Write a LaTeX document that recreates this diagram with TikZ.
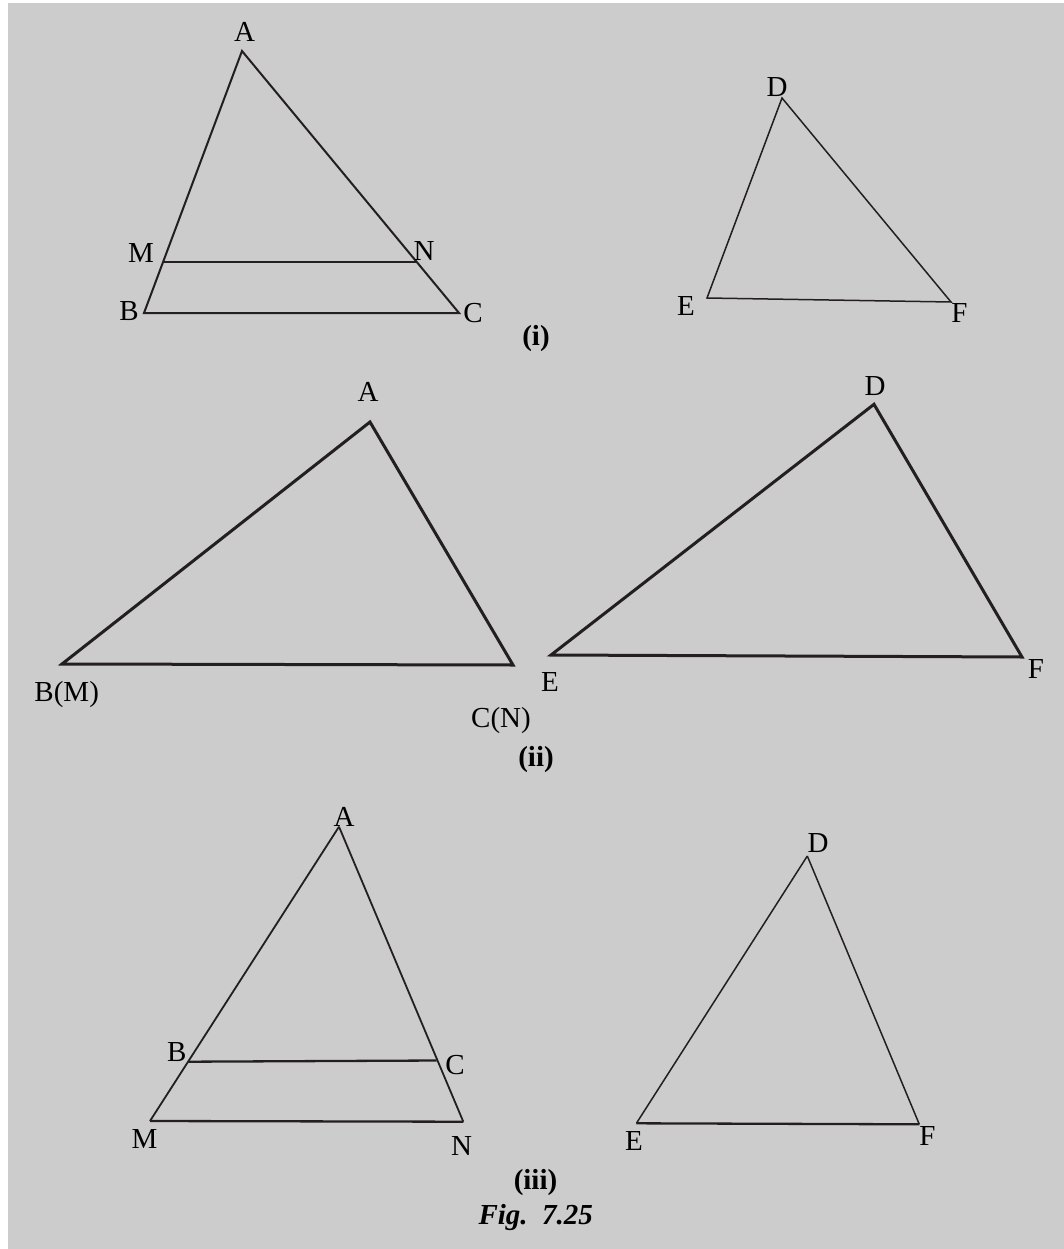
\documentclass[tikz,border=0pt]{standalone}
\usepackage{fontspec}
\setmainfont{Liberation Serif}
\definecolor{ink}{HTML}{231F20}
\definecolor{bgray}{HTML}{CCCCCC}
\tikzset{
  lbl/.style={anchor=base,inner sep=0pt,text=black,font=\fontsize{29}{32}\selectfont},
  caption/.style={anchor=base,inner sep=0pt,text=black,font=\fontsize{29}{32}\selectfont\bfseries},
  figcap/.style={anchor=base,inner sep=0pt,text=black,font=\fontsize{29}{32}\selectfont\bfseries\itshape},
  edgeA/.style={draw=ink,line width=2pt,line join=miter},
  edgeB/.style={draw=ink,line width=1.5pt,line join=miter},
  edgeC/.style={draw=ink,line width=3pt,line join=miter},
  edgeD/.style={draw=ink,line width=1.8pt,line join=miter},
  edgeE/.style={draw=ink,line width=2.3pt}
}
\begin{document}
\begin{tikzpicture}[x=1pt,y=-1pt]
\path[use as bounding box] (0,0) rectangle (1064,1249);
\fill[bgray] (8,3) rectangle (1064,1249);

% ---------- (i) ----------
\coordinate (iA) at (242,51);
\coordinate (iB) at (144,313);
\coordinate (iC) at (459,313);
\coordinate (iM) at (164,262);
\coordinate (iN) at (416,262);
\path[edgeA] (iA) -- (iB) -- (iC) -- cycle;
\path[edgeA] (iM) -- (iN);
\node[lbl] (liA) at (244.5,41.7) {A};
\node[lbl] (liM) at (141,262) {M};
\node[lbl] (liN) at (424,260) {N};
\node[lbl] (liB) at (129,320) {B};
\node[lbl] (liC) at (473,322) {C};
\node[caption] (capi) at (536,345) {(i)};

\coordinate (iD) at (782,98);
\coordinate (iE) at (707,298);
\coordinate (iF) at (951,302);
\path[edgeB] (iD) -- (iE) -- (iF) -- cycle;
\node[lbl] (liD) at (777,97) {D};
\node[lbl] (liE) at (686,315) {E};
\node[lbl] (liF) at (959.5,322) {F};

% ---------- (ii) ----------
\coordinate (iiA) at (370,422);
\coordinate (iiB) at (62,664);
\coordinate (iiC) at (513,665);
\path[edgeC] (iiA) -- (iiB) -- (iiC) -- cycle;
\node[lbl] (liiA) at (368,401.7) {A};
\node[lbl] (liiB) at (66.7,701.7) {B(M)};
\node[lbl] (liiC) at (501,727) {C(N)};
\node[caption] (capii) at (536,766.7) {(ii)};

\coordinate (iiD) at (874,404.3);
\coordinate (iiE) at (551,655);
\coordinate (iiF) at (1022,657);
\path[edgeC] (iiD) -- (iiE) -- (iiF) -- cycle;
\node[lbl] (liiD) at (875,395.7) {D};
\node[lbl] (liiE) at (550,691) {E};
\node[lbl] (liiF) at (1036,678) {F};

% ---------- (iii) ----------
\coordinate (iiiA) at (339,826.7);
\coordinate (iiiM) at (150,1121);
\coordinate (iiiN) at (463.3,1121.7);
\coordinate (iiiB) at (188.3,1061.7);
\coordinate (iiiC) at (436.7,1060.5);
\path[edgeD] (iiiA) -- (iiiM);
\path[edgeD] (iiiA) -- (iiiN);
\path[edgeE] (iiiM) -- (iiiN);
\path[edgeE] (iiiB) -- (iiiC);
\node[lbl] (liiiA) at (344,826) {A};
\node[lbl] (liiiB) at (176.7,1061) {B};
\node[lbl] (liiiC) at (455,1074) {C};
\node[lbl] (liiiM) at (144.5,1148) {M};
\node[lbl] (liiiN) at (461.7,1155) {N};
\node[caption] (capiii) at (535.5,1189) {(iii)};
\node[figcap] (fig) at (535.7,1224) {Fig.\ \ 7.25};

\coordinate (iiiD) at (807.3,856);
\coordinate (iiiE) at (636.4,1123.3);
\coordinate (iiiF) at (919.3,1124.3);
\path[edgeB] (iiiD) -- (iiiE);
\path[edgeB] (iiiD) -- (iiiF);
\path[edgeE] (iiiE) -- (iiiF);
\node[lbl] (liiiD) at (818,852) {D};
\node[lbl] (liiiE) at (634,1150) {E};
\node[lbl] (liiiF) at (927.4,1145) {F};
\end{tikzpicture}
\end{document}
